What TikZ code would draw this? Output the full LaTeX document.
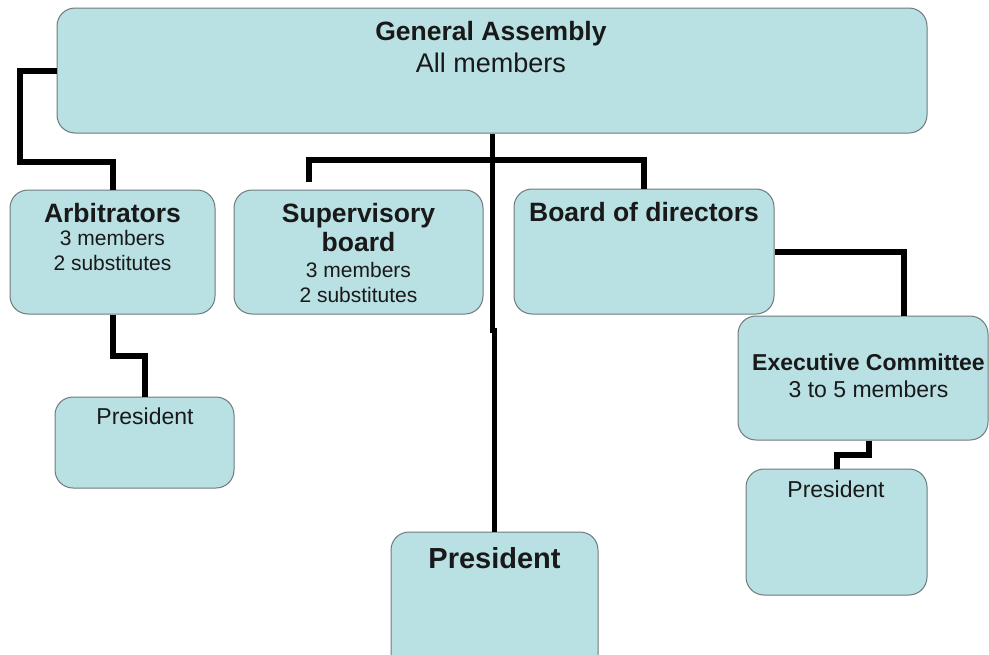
\documentclass[tikz,border=0pt]{standalone}
\usepackage{fontspec}
\setmainfont{Liberation Sans}
\usetikzlibrary{calc}
\definecolor{boxfill}{RGB}{185,224,227}
\definecolor{boxline}{RGB}{110,122,124}
\definecolor{txt}{RGB}{25,25,25}
\tikzset{
  box/.style={draw=boxline, line width=1pt, fill=boxfill, rounded corners=18pt, inner sep=0pt},
  conn/.style={line width=6pt, black, line join=miter},
  trunk/.style={line width=5pt, black, line join=miter},
  head/.style={anchor=base, inner sep=0pt, text=txt, font=\bfseries\fontsize{26.5}{30}\selectfont},
  sub/.style={anchor=base, inner sep=0pt, text=txt, font=\fontsize{21}{24}\selectfont},
}
\begin{document}
\begin{tikzpicture}[x=1pt,y=-1pt]
\clip (0,0) rectangle (989,654);
\fill[white] (0,0) rectangle (989,654);
% boxes
\node[box, minimum width=870, minimum height=125] (ga) at (492,70.5) {};
\node[box, minimum width=205, minimum height=124] (arb) at (112.5,252) {};
\node[box, minimum width=249, minimum height=124] (sup) at (358.5,252) {};
\node[box, minimum width=260, minimum height=125] (bod) at (644,251.5) {};
\node[box, minimum width=250, minimum height=124] (exc) at (863,378) {};
\node[box, minimum width=179, minimum height=91] (arbp) at (144.5,442.5) {};
\node[box, minimum width=181, minimum height=126] (exp) at (836.5,532) {};
\node[box, minimum width=207, minimum height=150] (pres) at (494.5,607) {};
% texts
\node[head] (gat1) at (491,40) {General Assembly};
\node[sub, font=\fontsize{27}{30}\selectfont] (gat2) at (491,72) {All members};
\node[head] (arbt1) at (112.5,222) {Arbitrators};
\node[sub] (arbt2) at (112.5,245) {3 members};
\node[sub] (arbt3) at (112.5,270) {2 substitutes};
\node[head] (supt1) at (358.5,222) {Supervisory};
\node[head] (supt2) at (358.5,251) {board};
\node[sub] (supt3) at (358.5,277) {3 members};
\node[sub] (supt4) at (358.5,302) {2 substitutes};
\node[head] (bodt) at (644,221) {Board of directors};
\node[head, font=\bfseries\fontsize{23}{26}\selectfont] (exct1) at (868.5,370) {Executive Committee};
\node[sub, font=\fontsize{23}{26}\selectfont] (exct2) at (868.5,397) {3 to 5 members};
\node[sub, font=\fontsize{23}{26}\selectfont] (arbpt) at (145,424) {President};
\node[sub, font=\fontsize{23}{26}\selectfont] (expt) at (836,497) {President};
\node[head, font=\bfseries\fontsize{29}{32}\selectfont] (prest) at (494.5,568) {President};
% connectors
\coordinate (bar) at ($(ga.south)+(0,26)$);
\coordinate (supin) at ($(sup.north west)+(75,-8)$);
\coordinate (excin) at ($(exc.north east)+(-85,0)$);
\coordinate (excout) at ($(exc.south)+(6,0)$);
\draw[conn] (ga.west) -- ++(-37,0) |- ($(arb.north)+(0,-28)$) -- (arb.north);
\draw[trunk] (ga.south) -- ++(0,197) -| (pres.north);
\draw[conn] (bar) -| (supin);
\draw[conn] (bar) -| (bod.north);
\draw[conn] (bod.east) -| (excin);
\draw[conn] (excout) -- ++(0,14) -| (exp.north);
\draw[conn] (arb.south) -- ++(0,41) -| (arbp.north);
\end{tikzpicture}
\end{document}
